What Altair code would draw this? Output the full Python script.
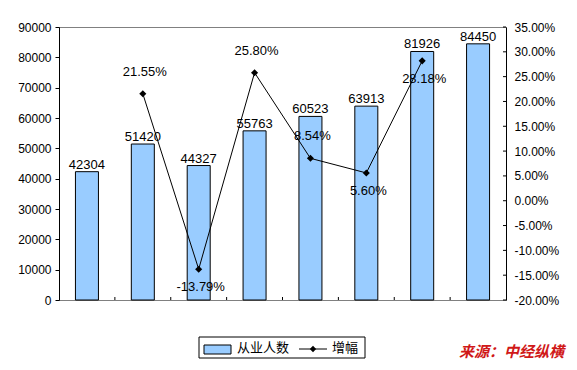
import altair as alt
import pandas as pd

categories = ["2003年", "2004年", "2005年", "2006年", "2007年", "2008年", "2009年", "2010年2月"]
employees = [42304, 51420, 44327, 55763, 60523, 63913, 81926, 84450]
growth_pct = [None, 21.55, -13.79, 25.80, 8.54, 5.60, 28.18, None]
growth_label_side = [None, "above", "below", "above", "above", "below", "below", None]
left_ticks = [0, 10000, 20000, 30000, 40000, 50000, 60000, 70000, 80000, 90000]
right_ticks_pct = [-20, -15, -10, -5, 0, 5, 10, 15, 20, 25, 30, 35]

FONT = "Liberation Sans, Arial, Noto Sans CJK SC, sans-serif"
W, H = 447, 273

df = pd.DataFrame({
    "cat": categories,
    "emp": employees,
    "growth": [g / 100 if g is not None else None for g in growth_pct],
    "side": growth_label_side,
})
gdf = df.dropna(subset=["growth"]).copy()
gdf["glabel"] = [f"{g:.2f}%" for g in gdf["growth"] * 100]
rt = pd.DataFrame({"growth": [v / 100 for v in right_ticks_pct]})

xs = alt.Scale(domain=categories, paddingInner=0, paddingOuter=0)
x_enc = alt.X("cat:N", scale=xs, sort=categories,
              axis=alt.Axis(title=None, labelFontSize=11, labelAngle=0, ticks=False,
                            labelPadding=9, domainColor="black", labelColor="black",
                            labelFont=FONT))

ly = alt.Scale(domain=[0, 90000])
ry = alt.Scale(domain=[-0.20, 0.35])
left_axis = alt.Axis(title=None, values=left_ticks, format="d", labelFontSize=12,
                     tickSize=4, labelPadding=4, grid=False, domainColor="black",
                     tickColor="black", labelColor="black", labelFont=FONT)
right_axis = alt.Axis(title=None, orient="right", values=[v / 100 for v in right_ticks_pct],
                      labelExpr="(datum.value < -0.00001 ? '-' : '') + format(abs(datum.value), '.2%')",
                      labelFontSize=12, ticks=False, labelPadding=8,
                      grid=False, domainColor="black", labelColor="black", labelFont=FONT)
y_left = alt.Y("emp:Q", scale=ly, axis=left_axis)
y_right = alt.Y("growth:Q", scale=ry, axis=right_axis)

base = alt.Chart(df)

bars = base.mark_bar(width=23, color="#99CCFF", stroke="black", strokeWidth=1).encode(
    x=x_enc, y=y_left)
bar_labels = base.mark_text(fontSize=13, font=FONT, baseline="alphabetic", dy=-3, color="black").encode(
    x=x_enc, y=y_left, text=alt.Text("emp:Q", format="d"))
left = alt.layer(bars, bar_labels)

gbase = alt.Chart(gdf)
line = gbase.mark_line(color="black", strokeWidth=1).encode(x=x_enc, y=y_right)
pts = gbase.mark_point(shape="diamond", filled=True, color="black", size=50, opacity=1).encode(
    x=x_enc, y=y_right)
lab_above = gbase.transform_filter(alt.datum.side == "above").mark_text(
    fontSize=13, font=FONT, baseline="alphabetic", dy=-18, dx=2, color="black").encode(
    x=x_enc, y=y_right, text="glabel:N")
lab_below = gbase.transform_filter(alt.datum.side == "below").mark_text(
    fontSize=13, font=FONT, baseline="alphabetic", dy=22, dx=2, color="black").encode(
    x=x_enc, y=y_right, text="glabel:N")
rticks = alt.Chart(rt).mark_rule(color="black", strokeWidth=1).encode(
    y=y_right, x=alt.value(W - 3), x2=alt.value(W))
right = alt.layer(line, pts, lab_above, lab_below, rticks)

# x ticks between categories (inside, pointing up)
xticks = alt.Chart(df).transform_filter(alt.datum.cat != categories[0]).mark_rule(
    color="black", strokeWidth=1).encode(
    x=alt.X("cat:N", scale=xs, sort=categories, bandPosition=0, axis=None),
    y=alt.value(H - 3), y2=alt.value(H))

one = alt.Chart(pd.DataFrame({"a": [0]}))
leg_box = one.mark_rect(fill="white", stroke="black", strokeWidth=1).encode(
    x=alt.value(140), x2=alt.value(306), y=alt.value(310), y2=alt.value(331))
leg_sw = one.mark_rect(fill="#99CCFF", stroke="black", strokeWidth=1).encode(
    x=alt.value(145), x2=alt.value(172), y=alt.value(318), y2=alt.value(327))
leg_t1 = one.mark_text(fontSize=13, font=FONT, align="left", baseline="middle", color="black").encode(
    x=alt.value(178), y=alt.value(321), text=alt.value("从业人数"))
leg_ln = one.mark_rule(color="black", strokeWidth=1).encode(
    x=alt.value(240), x2=alt.value(268), y=alt.value(322))
leg_pt = one.mark_point(shape="diamond", filled=True, color="black", size=40, opacity=1).encode(
    x=alt.value(254), y=alt.value(322))
leg_t2 = one.mark_text(fontSize=13, font=FONT, align="left", baseline="middle", color="black").encode(
    x=alt.value(273), y=alt.value(321), text=alt.value("增幅"))
source = one.mark_text(fontSize=15, font="Noto Sans CJK SC", fontWeight="bold", fontStyle="italic",
                       align="right", baseline="middle", color="#D01818").encode(
    x=alt.value(505), y=alt.value(325), text=alt.value("来源：中经纵横"))

main = alt.layer(left, right).resolve_scale(y="independent")

chart = alt.layer(main, xticks, leg_box, leg_sw, leg_t1, leg_ln, leg_pt, leg_t2, source).properties(
    width=W, height=H,
    autosize=alt.AutoSizeParams(type="none"),
    padding={"left": 51, "top": 19, "right": 63, "bottom": 62},
    background="white",
).configure_view(stroke="#808080", strokeWidth=1).configure_axis(domainWidth=1)

chart.save("out.html", embed_options={"renderer": "svg", "actions": False})
